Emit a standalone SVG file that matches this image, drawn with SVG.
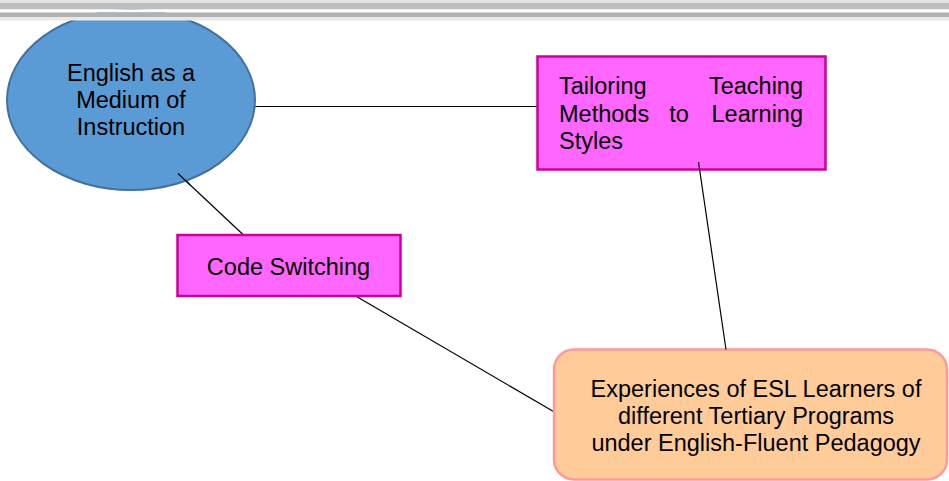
<svg xmlns="http://www.w3.org/2000/svg" width="949" height="481" viewBox="0 0 949 481">
<style>
  text { font-family: "Liberation Sans", Arial, sans-serif; font-size: 23.5px; fill: #000; }
  .box { fill: #ff66ff; stroke: #cc0099; stroke-width: 2.5; }
  .conn { stroke: #000; stroke-width: 1.2; fill: none; }
</style>
<rect x="0" y="0" width="949" height="481" fill="#ffffff"/>
<g id="connectors">
  <line class="conn" x1="255" y1="106.5" x2="537" y2="106.5"/>
  <line class="conn" x1="178" y1="173.5" x2="243.5" y2="235"/>
  <line class="conn" x1="356.5" y1="296.5" x2="553.5" y2="411.5"/>
</g>
<g id="node-emi">
  <ellipse cx="131" cy="100" rx="124" ry="90" fill="#5b9bd5" stroke="#41719c" stroke-width="2"/>
  <text x="131" text-anchor="middle"><tspan x="131" y="81">English as a</tspan><tspan x="131" y="108">Medium of</tspan><tspan x="131" y="135">Instruction</tspan></text>
  <line class="conn" x1="178" y1="173.5" x2="190" y2="184.8"/>
</g>
<g id="node-tailoring">
  <rect class="box" x="537.5" y="56.5" width="288" height="113"/>
  <text><tspan x="559" y="94">Tailoring</tspan><tspan x="803" y="94" text-anchor="end">Teaching</tspan><tspan x="559" y="121.5">Methods</tspan><tspan x="679" y="121.5" text-anchor="middle">to</tspan><tspan x="803" y="121.5" text-anchor="end">Learning</tspan><tspan x="559" y="149">Styles</tspan></text>
</g>
<g id="node-code">
  <rect class="box" x="177.5" y="235" width="223" height="61"/>
  <text x="288.5" y="275" text-anchor="middle">Code Switching</text>
</g>
<g id="node-exp">
  <rect x="554" y="349.5" width="393" height="130" rx="20" ry="20" fill="#ffcc99" stroke="#ff9999" stroke-width="2.5"/>
  <text text-anchor="middle"><tspan x="756" y="397">Experiences of ESL Learners of</tspan><tspan x="756" y="424">different Tertiary Programs</tspan><tspan x="756" y="451">under English-Fluent Pedagogy</tspan></text>
</g>
<g id="connector-top">
  <line class="conn" x1="698.5" y1="162" x2="726" y2="349.5"/>
</g>
<g id="banner">
  <rect x="0" y="0" width="949" height="3" fill="#e4e4e4"/>
  <rect x="0" y="3" width="949" height="6.5" fill="#bdbdbd"/>
  <rect x="0" y="9.5" width="949" height="3" fill="#ffffff"/>
  <rect x="0" y="12.5" width="949" height="4.5" fill="#b1b1b1"/>
  <rect x="0" y="17" width="949" height="3.5" fill="#e8e8e8"/>
</g>
</svg>
